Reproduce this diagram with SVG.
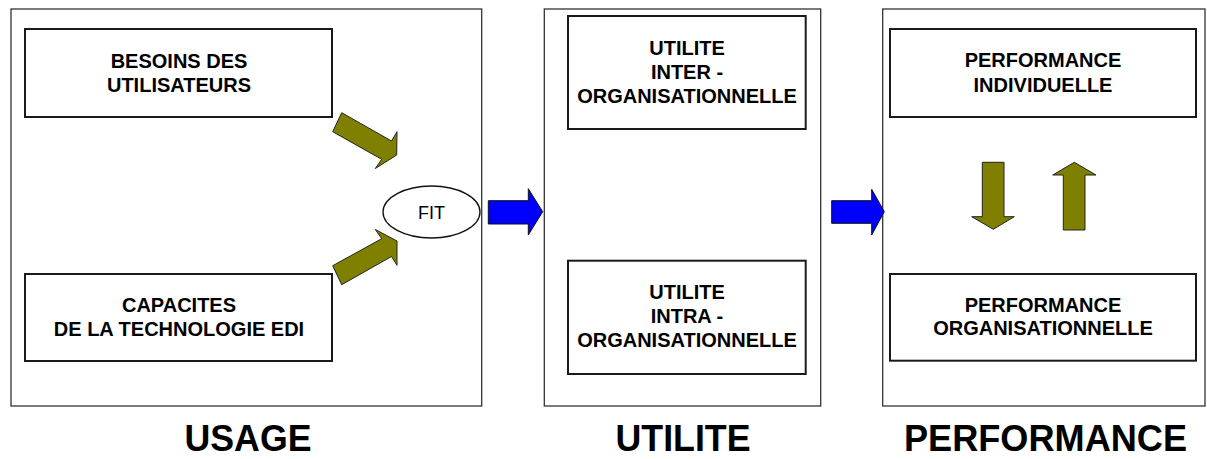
<svg xmlns="http://www.w3.org/2000/svg" width="1207" height="459" viewBox="0 0 1207 459">
<style>
.panel{fill:#fff;stroke:#333;stroke-width:1.3}
.box{fill:#fff;stroke:#1a1a1a;stroke-width:2}
.t{font-family:"Liberation Sans",Arial,sans-serif;font-weight:bold;font-size:20px;text-anchor:middle;fill:#000}
.big{font-family:"Liberation Sans",Arial,sans-serif;font-weight:bold;font-size:37px;text-anchor:middle;fill:#000}
.olive{fill:#808000;stroke:#222;stroke-width:1}
.blue{fill:#0000ff;stroke:#111;stroke-width:1}
</style>
<rect width="1207" height="459" fill="#fff"/>
<g id="panel-usage"><rect class="panel" x="11" y="9" width="470.7" height="397"/></g>
<g id="panel-utilite"><rect class="panel" x="544.3" y="9" width="276.4" height="397"/></g>
<g id="panel-performance"><rect class="panel" x="882.7" y="9" width="322.3" height="397"/></g>

<g id="besoins"><rect class="box" x="25" y="29" width="307" height="88"/>
<text class="t" x="179" y="68">BESOINS DES</text><text class="t" x="179" y="92">UTILISATEURS</text></g>
<g id="capacites"><rect class="box" x="25" y="274" width="307" height="87"/>
<text class="t" x="179" y="312">CAPACITES</text><text class="t" x="179" y="336">DE LA TECHNOLOGIE EDI</text></g>
<g id="fit"><ellipse cx="431.5" cy="212" rx="48.5" ry="26" fill="#fff" stroke="#111" stroke-width="1.3"/>
<text x="431.5" y="218.5" font-family="'Liberation Sans',Arial,sans-serif" font-size="18" text-anchor="middle" fill="#000">FIT</text></g>

<g id="utilite-inter"><rect class="box" x="568" y="16" width="237.7" height="113"/>
<text class="t" x="687" y="55">UTILITE</text><text class="t" x="687" y="79">INTER -</text><text class="t" x="687" y="103">ORGANISATIONNELLE</text></g>
<g id="utilite-intra"><rect class="box" x="568" y="260.7" width="237.7" height="113.3"/>
<text class="t" x="687" y="299">UTILITE</text><text class="t" x="687" y="323">INTRA -</text><text class="t" x="687" y="347">ORGANISATIONNELLE</text></g>

<g id="perf-individuelle"><rect class="box" x="890" y="29" width="306" height="88"/>
<text class="t" x="1043" y="67">PERFORMANCE</text><text class="t" x="1043" y="91.5">INDIVIDUELLE</text></g>
<g id="perf-organisationnelle"><rect class="box" x="890" y="274" width="306" height="86.7"/>
<text class="t" x="1043" y="311.5">PERFORMANCE</text><text class="t" x="1043" y="335">ORGANISATIONNELLE</text></g>

<g id="connectors">
<polygon class="olive" points="341.7,112.7 391.5,141 397,131.7 396.7,155 375.3,168.5 381.7,159.3 332.7,131.7"/>
<polygon class="olive" points="332.7,265.7 381.7,238.7 375.3,229.5 397,241 397,265.3 391.5,256.5 341.7,284.7"/>
<polygon class="blue" points="488.3,200.7 528.3,200.7 528.3,188.7 542.7,211.7 528.3,235 528.3,224 488.3,224"/>
<polygon class="blue" points="831.7,200.7 871.7,200.7 871.7,189.3 884.3,211.7 871.7,235 871.7,223.3 831.7,223.3"/>
<polygon class="olive" points="982.3,162.3 1004,162.3 1004,216.7 1014.3,216.7 993.3,229.3 971.7,216.7 982.3,216.7"/>
<polygon class="olive" points="1063.3,230 1085,230 1085,175 1096,175 1074.3,162.3 1052.7,175 1063.3,175"/>
</g>

<g id="labels">
<text class="big" x="248" y="451" textLength="127" lengthAdjust="spacingAndGlyphs">USAGE</text>
<text class="big" x="683" y="451" textLength="135" lengthAdjust="spacingAndGlyphs">UTILITE</text>
<text class="big" x="1045.5" y="451" textLength="283" lengthAdjust="spacingAndGlyphs">PERFORMANCE</text>
</g>
</svg>
